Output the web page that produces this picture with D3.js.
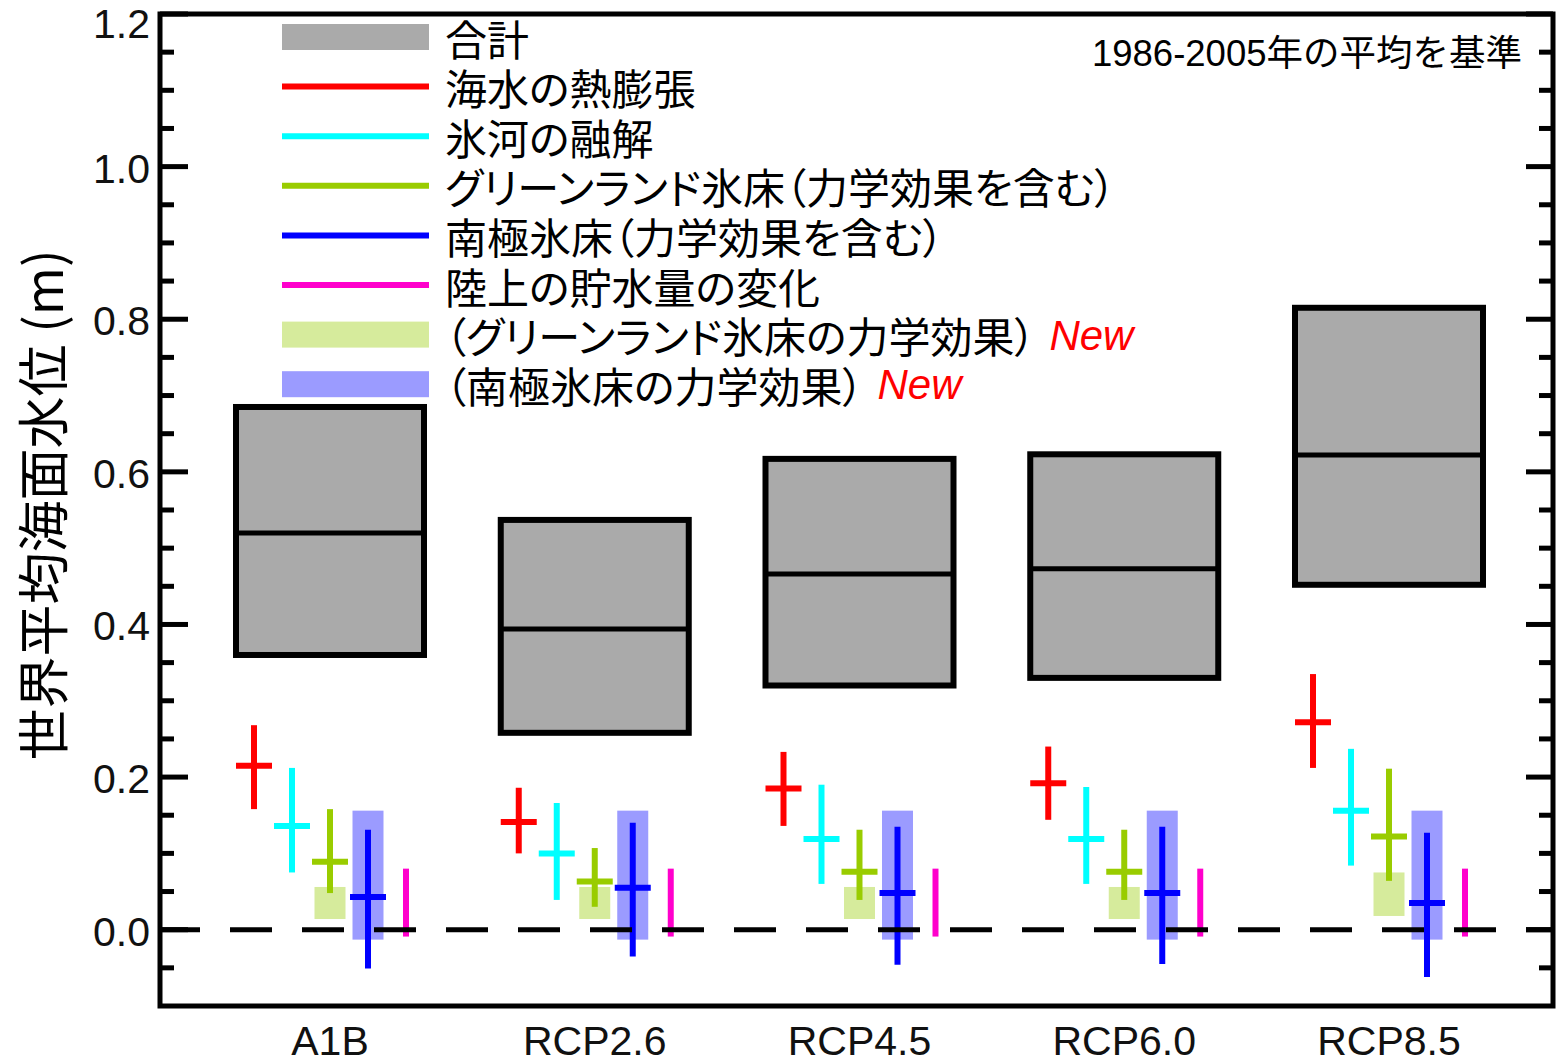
<!DOCTYPE html>
<html>
<head>
<meta charset="utf-8">
<script src="https://cdn.jsdelivr.net/npm/d3@7"></script>
<style>
  html, body { margin: 0; padding: 0; background: #fff; }
  svg { display: block; }
  .jp { font-family: "Noto Sans CJK JP", "Liberation Sans", sans-serif; font-feature-settings: "palt"; }
  .num { font-family: "Liberation Sans", "Noto Sans CJK JP", sans-serif; }
</style>
</head>
<body>
<svg id="chart" width="1558" height="1064"></svg>
<script>
// Scenarios on the x axis
const categories = ["A1B", "RCP2.6", "RCP4.5", "RCP6.0", "RCP8.5"];

// Total global mean sea level rise (m): likely range and median
const totalLow  = [0.36, 0.258, 0.32, 0.33, 0.452];
const totalMid  = [0.52, 0.394, 0.466, 0.473, 0.622];
const totalHigh = [0.685, 0.537, 0.617, 0.623, 0.815];

// Thermal expansion
const thermalMid  = [0.215, 0.141, 0.185, 0.192, 0.272];
const thermalLow  = [0.158, 0.100, 0.136, 0.144, 0.212];
const thermalHigh = [0.268, 0.186, 0.233, 0.240, 0.335];

// Glaciers
const glacierMid  = [0.136, 0.100, 0.119, 0.119, 0.156];
const glacierLow  = [0.075, 0.039, 0.060, 0.060, 0.084];
const glacierHigh = [0.212, 0.166, 0.190, 0.187, 0.237];

// Greenland ice sheet (incl. dynamics)
const greenlandMid  = [0.089, 0.063, 0.076, 0.076, 0.122];
const greenlandLow  = [0.048, 0.030, 0.039, 0.039, 0.064];
const greenlandHigh = [0.158, 0.107, 0.131, 0.131, 0.211];

// Antarctic ice sheet (incl. dynamics)
const antarcticMid  = [0.043, 0.055, 0.048, 0.048, 0.035];
const antarcticLow  = [-0.051, -0.035, -0.046, -0.045, -0.062];
const antarcticHigh = [0.131, 0.140, 0.135, 0.135, 0.127];

// Land water storage
const landLow  = [-0.009, -0.009, -0.009, -0.009, -0.009];
const landHigh = [0.080, 0.080, 0.080, 0.080, 0.080];

// Greenland rapid dynamics
const grDynLow  = [0.014, 0.014, 0.014, 0.014, 0.018];
const grDynHigh = [0.056, 0.056, 0.056, 0.056, 0.075];

// Antarctic rapid dynamics
const anDynLow  = [-0.013, -0.013, -0.013, -0.013, -0.013];
const anDynHigh = [0.156, 0.156, 0.156, 0.156, 0.156];

// Axis ticks
const yMajorTicks = [0.0, 0.2, 0.4, 0.6, 0.8, 1.0, 1.2];
const yMinorTicks = [-0.05, 0.05, 0.1, 0.15, 0.25, 0.3, 0.35, 0.45, 0.5, 0.55, 0.65, 0.7, 0.75, 0.85, 0.9, 0.95, 1.05, 1.1, 1.15];

// Legend entries
const legendLabels = [
  "合計",
  "海水の熱膨張",
  "氷河の融解",
  "グリーンランド氷床（力学効果を含む）",
  "南極氷床（力学効果を含む）",
  "陸上の貯水量の変化",
  "（グリーンランド氷床の力学効果）",
  "（南極氷床の力学効果）"
];
const legendKinds  = ["box", "line", "line", "line", "line", "line", "box", "box"];
const legendColors = ["#aaaaaa", "#ff0000", "#00ffff", "#99cc00", "#0000ff", "#ff00cc", "#d6eb9c", "#9b9bff"];
const legendNew    = [false, false, false, false, false, false, true, true];

const components = ["thermal", "glacier", "greenland", "antarctic", "land"];
const compColors = { thermal: "#ff0000", glacier: "#00ffff", greenland: "#99cc00", antarctic: "#0000ff", land: "#ff00cc" };

// ---- layout ----
const W = 1558, H = 1064;
const plotL = 160, plotR = 1553, plotT = 14, plotB = 1006;

const svg = d3.select("#chart");

const y = d3.scaleLinear().domain([-0.1, 1.2]).range([plotB, plotT]);
const x = d3.scalePoint().domain(categories).range([plotL + 170, plotR - 164]);
const xc = d3.scalePoint().domain(components).range([-76, 76]);

const boxW = 188, dynW = 31, capW = 36, markW = 6;

// ---- total boxes ----
const totals = categories.map((c, i) => ({ c, lo: totalLow[i], mid: totalMid[i], hi: totalHigh[i] }));
const gTot = svg.append("g");
gTot.selectAll("rect").data(totals).join("rect")
  .attr("x", d => x(d.c) - boxW / 2)
  .attr("y", d => y(d.hi))
  .attr("width", boxW)
  .attr("height", d => y(d.lo) - y(d.hi))
  .attr("fill", "#aaaaaa")
  .attr("stroke", "#000")
  .attr("stroke-width", 6);
gTot.selectAll("line").data(totals).join("line")
  .attr("x1", d => x(d.c) - boxW / 2).attr("x2", d => x(d.c) + boxW / 2)
  .attr("y1", d => y(d.mid)).attr("y2", d => y(d.mid))
  .attr("stroke", "#000").attr("stroke-width", 5);

// ---- rapid dynamics shaded ranges ----
const gDyn = svg.append("g");
gDyn.selectAll("rect.gr").data(categories.map((c, i) => ({ c, lo: grDynLow[i], hi: grDynHigh[i] }))).join("rect")
  .attr("class", "gr")
  .attr("x", d => x(d.c) + xc("greenland") - dynW / 2)
  .attr("y", d => y(d.hi))
  .attr("width", dynW)
  .attr("height", d => y(d.lo) - y(d.hi))
  .attr("fill", "#d6eb9c");
gDyn.selectAll("rect.an").data(categories.map((c, i) => ({ c, lo: anDynLow[i], hi: anDynHigh[i] }))).join("rect")
  .attr("class", "an")
  .attr("x", d => x(d.c) + xc("antarctic") - dynW / 2)
  .attr("y", d => y(d.hi))
  .attr("width", dynW)
  .attr("height", d => y(d.lo) - y(d.hi))
  .attr("fill", "#9b9bff");

// ---- contribution crosses ----
const compData = [];
categories.forEach((c, i) => {
  compData.push({ c, k: "thermal",   lo: thermalLow[i],   mid: thermalMid[i],   hi: thermalHigh[i] });
  compData.push({ c, k: "glacier",   lo: glacierLow[i],   mid: glacierMid[i],   hi: glacierHigh[i] });
  compData.push({ c, k: "greenland", lo: greenlandLow[i], mid: greenlandMid[i], hi: greenlandHigh[i] });
  compData.push({ c, k: "antarctic", lo: antarcticLow[i], mid: antarcticMid[i], hi: antarcticHigh[i] });
  compData.push({ c, k: "land",      lo: landLow[i],      mid: null,            hi: landHigh[i] });
});

const gComp = svg.append("g");
gComp.selectAll("line.v").data(compData).join("line")
  .attr("class", "v")
  .attr("x1", d => x(d.c) + xc(d.k)).attr("x2", d => x(d.c) + xc(d.k))
  .attr("y1", d => y(d.hi)).attr("y2", d => y(d.lo))
  .attr("stroke", d => compColors[d.k]).attr("stroke-width", markW);
gComp.selectAll("line.h").data(compData.filter(d => d.mid !== null)).join("line")
  .attr("class", "h")
  .attr("x1", d => x(d.c) + xc(d.k) - capW / 2).attr("x2", d => x(d.c) + xc(d.k) + capW / 2)
  .attr("y1", d => y(d.mid)).attr("y2", d => y(d.mid))
  .attr("stroke", d => compColors[d.k]).attr("stroke-width", markW);

// ---- zero reference line ----
svg.append("line")
  .attr("x1", plotL - 2).attr("x2", plotR)
  .attr("y1", y(0)).attr("y2", y(0))
  .attr("stroke", "#000").attr("stroke-width", 5)
  .attr("stroke-dasharray", "42 30");

// ---- frame and ticks ----
svg.append("rect")
  .attr("x", plotL).attr("y", plotT)
  .attr("width", plotR - plotL).attr("height", plotB - plotT)
  .attr("fill", "none").attr("stroke", "#000").attr("stroke-width", 5);

const gTicks = svg.append("g").attr("stroke", "#000").attr("stroke-width", 5);
yMajorTicks.forEach(v => {
  gTicks.append("line").attr("x1", plotL).attr("x2", plotL + 28).attr("y1", y(v)).attr("y2", y(v));
  gTicks.append("line").attr("x1", plotR).attr("x2", plotR - 27).attr("y1", y(v)).attr("y2", y(v));
});
yMinorTicks.forEach(v => {
  gTicks.append("line").attr("x1", plotL).attr("x2", plotL + 14).attr("y1", y(v)).attr("y2", y(v));
  gTicks.append("line").attr("x1", plotR).attr("x2", plotR - 14).attr("y1", y(v)).attr("y2", y(v));
});

svg.append("g").selectAll("text").data(yMajorTicks).join("text")
  .attr("class", "num")
  .attr("x", 150)
  .attr("y", v => Math.max(y(v) + 16, 38))
  .attr("text-anchor", "end")
  .attr("font-size", 41)
  .attr("fill", "#111")
  .text(v => d3.format(".1f")(v));

svg.append("g").selectAll("text").data(categories).join("text")
  .attr("class", "num")
  .attr("x", d => x(d))
  .attr("y", 1055)
  .attr("text-anchor", "middle")
  .attr("font-size", 41)
  .attr("fill", "#111")
  .text(d => d);

// ---- axis title ----
svg.append("text")
  .attr("class", "jp")
  .attr("transform", "translate(40,505) rotate(-90)")
  .attr("text-anchor", "middle")
  .attr("dominant-baseline", "central")
  .attr("font-size", 52)
  .attr("fill", "#000")
  .text("世界平均海面水位 (m)");

// ---- baseline note ----
svg.append("text")
  .attr("class", "num")
  .attr("x", 1522).attr("y", 66)
  .attr("text-anchor", "end")
  .attr("font-size", 36.5)
  .attr("fill", "#000")
  .text("1986-2005年の平均を基準");

// ---- legend ----
const legX0 = 282, legX1 = 429, legTextX = 445, legY0 = 37, legStep = 49.6;
const gLeg = svg.append("g");
legendLabels.forEach((label, i) => {
  const cy = legY0 + i * legStep;
  if (legendKinds[i] === "box") {
    gLeg.append("rect").attr("x", legX0).attr("y", cy - 13).attr("width", legX1 - legX0).attr("height", 26)
      .attr("fill", legendColors[i]);
  } else {
    gLeg.append("line").attr("x1", legX0).attr("x2", legX1).attr("y1", cy).attr("y2", cy)
      .attr("stroke", legendColors[i]).attr("stroke-width", 6);
  }
  const t = gLeg.append("text")
    .attr("class", "jp")
    .attr("x", legTextX).attr("y", cy)
    .attr("dominant-baseline", "central")
    .attr("font-size", 42)
    .attr("fill", "#000")
    .text(label);
  if (legendNew[i]) {
    const w = t.node().getComputedTextLength();
    gLeg.append("text")
      .attr("class", "num")
      .attr("x", legTextX + w + 14).attr("y", cy + 15)
      .attr("font-size", 42)
      .attr("font-style", "italic")
      .attr("fill", "#ff0000")
      .text("New");
  }
});
</script>
</body>
</html>
